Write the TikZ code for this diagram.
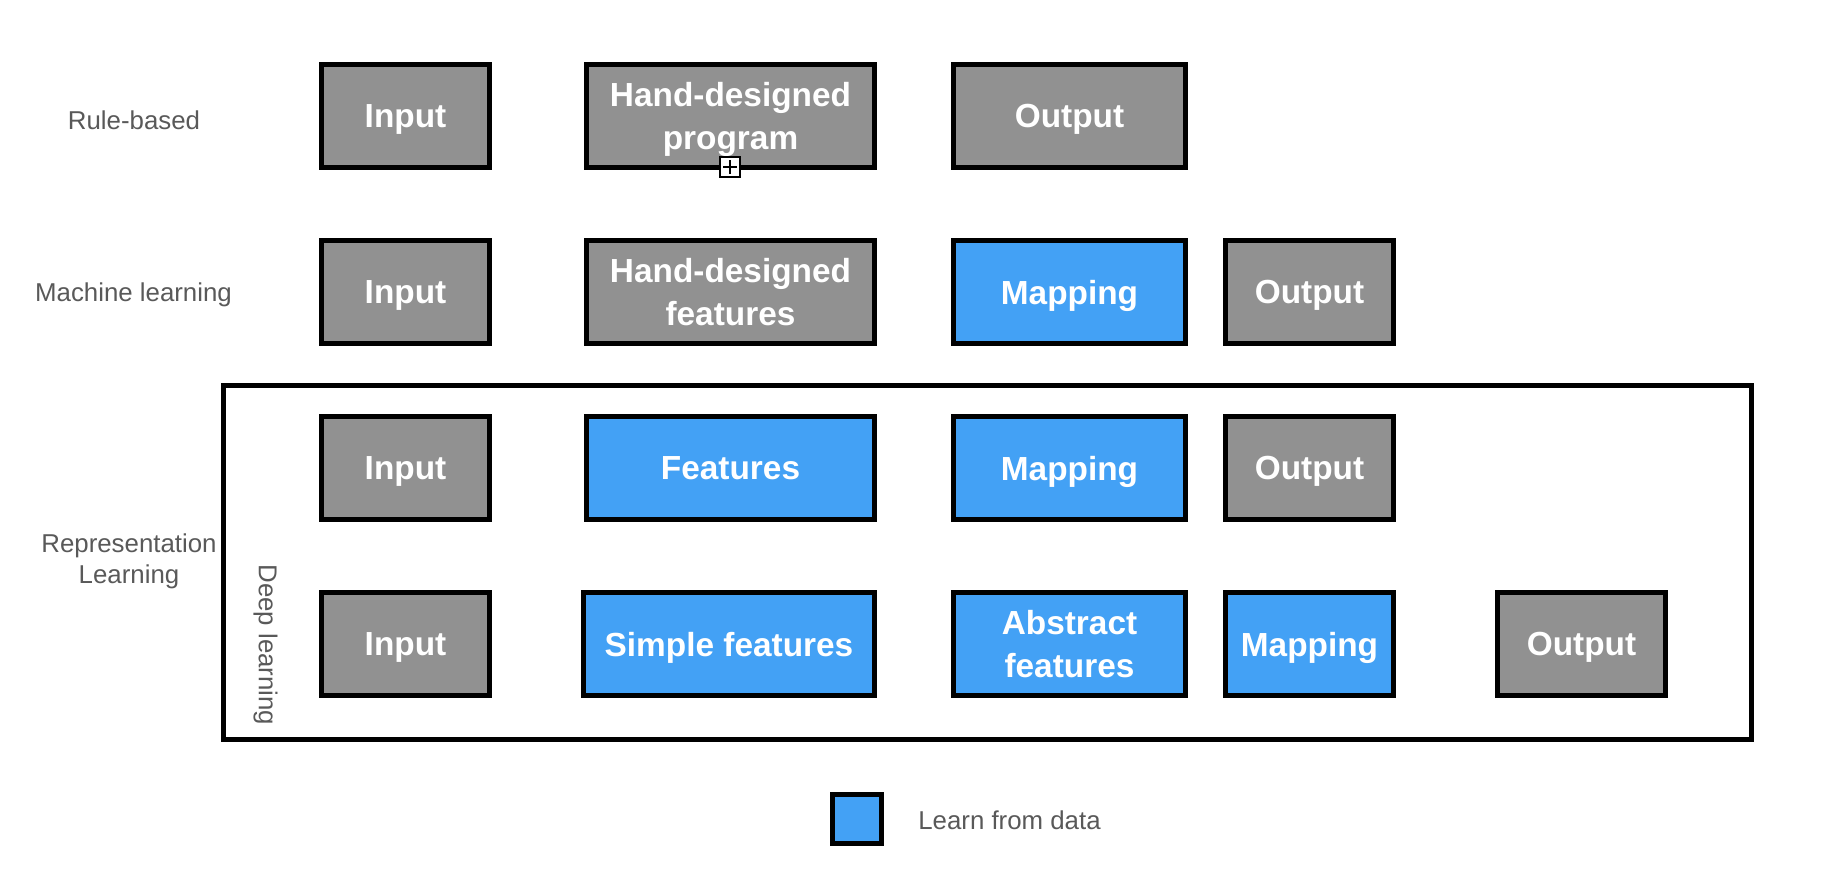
\documentclass[tikz,border=0pt]{standalone}
\usepackage{fontspec}
\setmainfont{Liberation Sans}
\usepackage{xcolor}
\definecolor{boxgray}{RGB}{145,145,145}
\definecolor{learnblue}{RGB}{67,161,245}
\definecolor{labelgray}{RGB}{89,89,89}
\tikzset{
  stage/.style={draw, line width=0.1cm, fill=boxgray, text=white, align=center,
    font=\fontsize{19}{24.5}\selectfont\bfseries, inner sep=0pt, text depth=0pt,
    minimum width=3.36cm, minimum height=2.06cm},
  learned/.style={stage, fill=learnblue},
  wide/.style={minimum width=5.76cm},
  mid/.style={minimum width=4.64cm},
  rowlabel/.style={text=labelgray, align=center, font=\fontsize{14.7}{17.6}\selectfont}
}

\begin{document}
\begin{tikzpicture}[x=0.02cm, y=-0.02cm]
\useasboundingbox (0,0) rectangle (1830,890);
\node[draw, line width=0.1cm, minimum width=30.56cm, minimum height=7.08cm] (dlframe) at (987.5,562.5) {};

\node[rowlabel] (rb) at (134,120) {Rule-based};
\node[rowlabel, text depth=0pt] (ml) at (133.5,292) {Machine learning};
\node[rowlabel] (rl) at (129,561.5) {Representation\\Learning};
\node[rowlabel, rotate=-90] (dl) at (265.5,645) {Deep learning};

\node[stage] (in1) at (405.5,116) {Input};
\node[stage, wide] (hd1) at (730.5,116) {Hand-designed\\program};
\node[stage, mid] (out1) at (1069.5,116) {Output};
\node[draw, fill=white, line width=0.03cm, minimum size=0.4cm, inner sep=0pt] (grip) at (730,167) {};
\draw[line width=0.03cm] ([xshift=-0.14cm]grip.center) -- ([xshift=0.14cm]grip.center);
\draw[line width=0.03cm] ([yshift=-0.14cm]grip.center) -- ([yshift=0.14cm]grip.center);

\node[stage] (in2) at (405.5,292) {Input};
\node[stage, wide] (hd2) at (730.5,292) {Hand-designed\\features};
\node[learned, mid] (map2) at (1069.5,292) {Mapping};
\node[stage] (out2) at (1309.5,292) {Output};

\node[stage] (in3) at (405.5,468) {Input};
\node[learned, wide] (feat3) at (730.5,468) {Features};
\node[learned, mid] (map3) at (1069.5,468) {Mapping};
\node[stage] (out3) at (1309.5,468) {Output};

\node[stage] (in4) at (405.5,644) {Input};
\node[learned, minimum width=5.82cm] (simp4) at (729,644) {Simple features};
\node[learned, mid] (abs4) at (1069.5,644) {Abstract\\features};
\node[learned] (map4) at (1309.5,644) {Mapping};
\node[stage] (out4) at (1581.5,644) {Output};

\node[learned, minimum width=0.98cm, minimum height=0.98cm] (key) at (857,819) {};
\node[rowlabel, anchor=west, inner sep=0pt] (keytext) at (918,820) {Learn from data};
\end{tikzpicture}
\end{document}
